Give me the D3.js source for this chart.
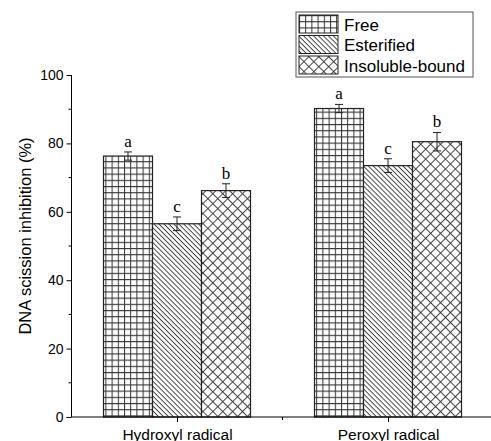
<!DOCTYPE html>
<html>
<head>
<meta charset="utf-8">
<script src="https://cdn.jsdelivr.net/npm/d3@7"></script>
<style>
  body { margin: 0; background: #fff; }
  svg text { font-family: Arial, "Liberation Sans", sans-serif; }
</style>
</head>
<body>
<svg id="chart" width="491" height="441"></svg>
<script>
'use strict';

// chart data
const categories = ['Hydroxyl radical', 'Peroxyl radical'];
const seriesNames = ['Free', 'Esterified', 'Insoluble-bound'];
const freeValues = [76.3, 90.2];
const esterifiedValues = [56.5, 73.5];
const insolubleValues = [66.2, 80.5];
const freeErrors = [1.2, 1.2];
const esterifiedErrors = [2.0, 2.0];
const insolubleErrors = [2.0, 2.7];
const freeLetters = ['a', 'a'];
const esterifiedLetters = ['c', 'c'];
const insolubleLetters = ['b', 'b'];
const yTicks = [0, 20, 40, 60, 80, 100];

const series = [
    { name: seriesNames[0], values: freeValues, errors: freeErrors, letters: freeLetters, fill: 'url(#pGrid)' },
    { name: seriesNames[1], values: esterifiedValues, errors: esterifiedErrors, letters: esterifiedLetters, fill: 'url(#pDiag)' },
    { name: seriesNames[2], values: insolubleValues, errors: insolubleErrors, letters: insolubleLetters, fill: 'url(#pCross)' }
];

const svg = d3.select('#chart');
const plotLeft = 71.5, plotBottom = 417, plotTop = 75;

const y = d3.scaleLinear().domain([0, 100]).range([plotBottom, plotTop]);
// category positions: 1, 2 on a 0.5..2.5 axis
const x = d3.scaleLinear().domain([0.5, 2.5]).range([plotLeft, 493.5]);
const barW = 49;

// patterns
const defs = svg.append('defs');
const gs = 6.2;
const grid = defs.append('pattern').attr('id', 'pGrid')
    .attr('patternUnits', 'userSpaceOnUse').attr('width', gs).attr('height', gs);
grid.append('rect').attr('width', gs).attr('height', gs).attr('fill', '#fff');
grid.append('path').attr('d', `M0.5,0V${gs}M0,0.5H${gs}`).attr('stroke', '#333').attr('stroke-width', 1);

const diag = defs.append('pattern').attr('id', 'pDiag')
    .attr('patternUnits', 'userSpaceOnUse').attr('width', 3.5).attr('height', 3.5)
    .attr('patternTransform', 'rotate(45)');
diag.append('rect').attr('width', 3.5).attr('height', 3.5).attr('fill', '#fff');
diag.append('line').attr('x1', 0).attr('x2', 3.5).attr('y1', 0.5).attr('y2', 0.5)
    .attr('stroke', '#333').attr('stroke-width', 0.9);

const cross = defs.append('pattern').attr('id', 'pCross')
    .attr('patternUnits', 'userSpaceOnUse').attr('width', 7).attr('height', 7)
    .attr('patternTransform', 'rotate(45)');
cross.append('rect').attr('width', 7).attr('height', 7).attr('fill', '#fff');
cross.append('path').attr('d', 'M0.5,0V7M0,0.5H7').attr('stroke', '#333').attr('stroke-width', 0.9);

// bars
series.forEach((s, si) => {
    const g = svg.append('g');
    s.values.forEach((v, ci) => {
        const cx = x(ci + 1) + (si - 1) * barW;
        g.append('rect')
            .attr('x', cx - barW / 2).attr('y', y(v))
            .attr('width', barW).attr('height', plotBottom - y(v))
            .attr('fill', s.fill).attr('stroke', '#222').attr('stroke-width', 1.2);
        const e = s.errors[ci];
        g.append('path')
            .attr('d', `M${cx},${y(v + e)}V${y(v - e)}M${cx - 4},${y(v + e)}H${cx + 4}M${cx - 4},${y(v - e)}H${cx + 4}`)
            .attr('stroke', '#222').attr('fill', 'none');
        g.append('text')
            .attr('x', cx).attr('y', y(v + e) - 5)
            .attr('text-anchor', 'middle')
            .style('font-family', '"Liberation Serif", "Times New Roman", serif')
            .style('font-size', '17px')
            .text(s.letters[ci]);
    });
});

// y axis
const yAxis = svg.append('g').attr('transform', `translate(${plotLeft},0)`)
    .call(d3.axisLeft(y).tickValues(yTicks).tickSize(5).tickPadding(3));
yAxis.selectAll('text').style('font-size', '14px').attr('fill', '#000');
yAxis.select('.domain').attr('d', `M0,${plotBottom}V${plotTop}`);
yAxis.selectAll('line, path').attr('stroke', '#000');
svg.append('g').attr('transform', `translate(${plotLeft},0)`)
    .selectAll('line').data(d3.range(10, 100, 20)).join('line')
    .attr('x1', -3).attr('x2', 0).attr('y1', d => y(d)).attr('y2', d => y(d))
    .attr('stroke', '#000');

// x axis
const xAxis = svg.append('g').attr('transform', `translate(0,${plotBottom})`)
    .call(d3.axisBottom(x).tickValues([1, 2]).tickFormat(d => categories[d - 1]).tickSize(5).tickPadding(7));
xAxis.select('.domain').attr('d', `M${plotLeft},0H491`);
xAxis.selectAll('text').style('font-size', '15.5px').attr('fill', '#000');
xAxis.selectAll('line, path').attr('stroke', '#000');
xAxis.append('line').attr('x1', x(1.5)).attr('x2', x(1.5)).attr('y1', 0).attr('y2', 3).attr('stroke', '#000');

// y label
svg.append('text')
    .attr('transform', `translate(31,236) rotate(-90)`)
    .attr('text-anchor', 'middle')
    .style('font-size', '16.5px')
    .text('DNA scission inhibition (%)');

// legend
const legend = svg.append('g').attr('transform', 'translate(296,12)');
legend.append('rect').attr('width', 177).attr('height', 65)
    .attr('fill', '#fff').attr('stroke', '#555');
series.forEach((s, i) => {
    const row = legend.append('g').attr('transform', `translate(3,${3 + i * 20.5})`);
    row.append('rect').attr('width', 39).attr('height', 18)
        .attr('fill', s.fill).attr('stroke', '#222');
    row.append('text').attr('x', 45).attr('y', 15.5)
        .style('font-size', '17px').text(s.name);
});
</script>
</body>
</html>
